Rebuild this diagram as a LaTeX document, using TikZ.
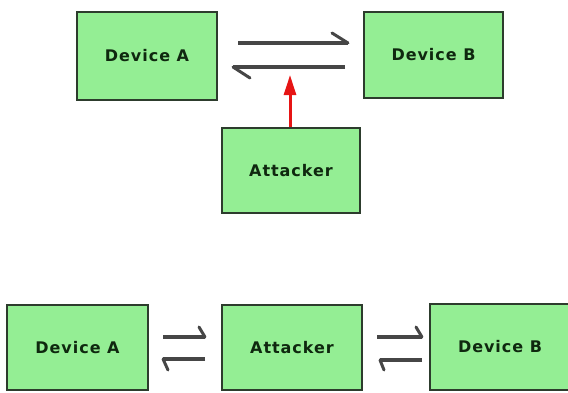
\documentclass[tikz,border=0pt]{standalone}
\usepackage{fontspec}
\setmainfont{DejaVu Sans}[LetterSpace=6]
\usetikzlibrary{arrows.meta}
\definecolor{boxfill}{RGB}{148,238,148}
\definecolor{boxline}{RGB}{45,60,45}
\definecolor{txt}{RGB}{15,40,15}
\definecolor{harp}{RGB}{70,70,70}
\definecolor{attackred}{RGB}{230,20,20}
\tikzset{
  devbox/.style={draw=boxline, line width=1.8pt, fill=boxfill, inner sep=0pt,
    font=\fontsize{16}{19}\selectfont\bfseries, text=txt},
  harpline/.style={draw=harp, line width=3.5pt, line cap=butt},
  harpbarb/.style={draw=harp, line width=3pt, line cap=round},
  redarrow/.style={draw=attackred, line width=3pt, -{Triangle[length=20pt,width=12pt]}}
}
\begin{document}
\begin{tikzpicture}[x=1pt,y=-1pt]
\useasboundingbox (0,0) rectangle (568,392);
% top scene
\node[devbox, minimum width=140pt, minimum height=88pt] (ta) at (147,56) {Device A};
\node[devbox, minimum width=139pt, minimum height=86pt] (tb) at (433.5,55) {Device B};
\node[devbox, minimum width=138pt, minimum height=85pt] (tk) at (291,170.5) {Attacker};
\coordinate (h1s) at (238,43);
\coordinate (h1e) at (348,43);
\coordinate (h1b) at (332,33);
\coordinate (h2s) at (345,67);
\coordinate (h2e) at (233,67);
\coordinate (h2b) at (250,78);
\draw[harpline] (h1s) -- (h1e);
\draw[harpbarb] (h1e) -- (h1b);
\draw[harpline] (h2s) -- (h2e);
\draw[harpbarb] (h2e) -- (h2b);
\coordinate (rt) at (290,75);
\draw[redarrow] (tk.north -| rt) -- (rt);
% bottom scene
\node[devbox, minimum width=141pt, minimum height=85pt] (ba) at (77.5,347.5) {Device A};
\node[devbox, minimum width=140pt, minimum height=85pt] (bk) at (292,347.5) {Attacker};
\node[devbox, minimum width=140pt, minimum height=86pt] (bb) at (500,347) {Device B};
\coordinate (l1s) at (163,337);
\coordinate (l1e) at (205,337);
\coordinate (l1b) at (199,327);
\coordinate (l2s) at (205,359);
\coordinate (l2e) at (163,359);
\coordinate (l2b) at (168,370);
\draw[harpline] (l1s) -- (l1e);
\draw[harpbarb] (l1e) -- (l1b);
\draw[harpline] (l2s) -- (l2e);
\draw[harpbarb] (l2e) -- (l2b);
\coordinate (r1s) at (377,337);
\coordinate (r1e) at (422,337);
\coordinate (r1b) at (416,327);
\coordinate (r2s) at (422,360);
\coordinate (r2e) at (380,360);
\coordinate (r2b) at (384,370);
\draw[harpline] (r1s) -- (r1e);
\draw[harpbarb] (r1e) -- (r1b);
\draw[harpline] (r2s) -- (r2e);
\draw[harpbarb] (r2e) -- (r2b);
\end{tikzpicture}
\end{document}
